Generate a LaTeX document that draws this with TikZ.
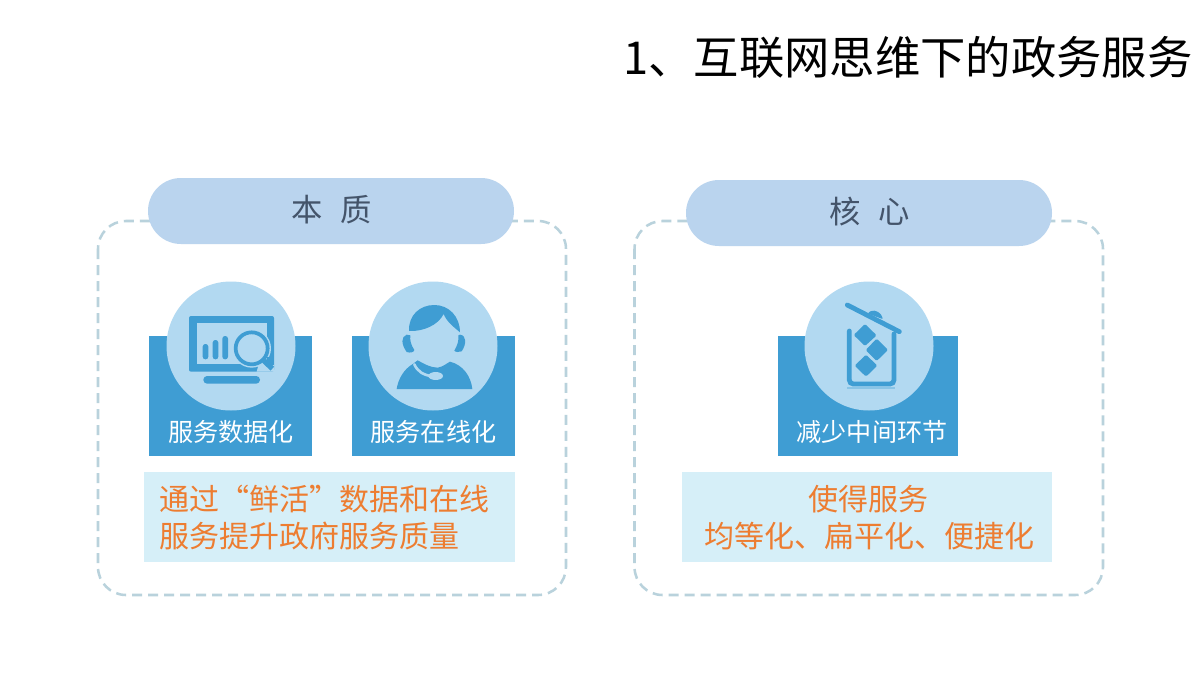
\documentclass[tikz,border=0pt]{standalone}
\usepackage{fontspec}
\setmainfont{Noto Sans CJK SC}
\definecolor{dashc}{HTML}{B9D2DC}
\definecolor{pillc}{HTML}{BAD4EE}
\definecolor{pillt}{HTML}{44546A}
\definecolor{blockc}{HTML}{3F9DD3}
\definecolor{circc}{HTML}{B2D9F1}
\definecolor{notec}{HTML}{D6EFF8}
\definecolor{orangec}{HTML}{ED7D31}
\tikzset{
  x=0.75pt,y=-0.75pt,
  framebox/.style={draw=dashc,line width=1.9pt,dash pattern=on 7.5pt off 4.5pt,rounded corners=21pt,fill=none},
  pill/.style={fill=pillc,draw=none,rounded corners=24.7pt},
  block/.style={fill=blockc,draw=none},
  disc/.style={fill=circc,draw=none},
  note/.style={fill=notec,draw=none},
  ttl/.style={inner sep=0pt,anchor=base west,text=black,font=\fontsize{34pt}{40pt}\selectfont},
  pilltext/.style={inner sep=0pt,anchor=center,text=pillt,font=\fontsize{23.5pt}{28pt}\selectfont},
  blocktext/.style={inner sep=0pt,anchor=center,text=white,font=\fontsize{18.8pt}{22pt}\selectfont},
  notetext/.style={inner sep=0pt,anchor=base west,text=orangec,font=\fontsize{22.5pt}{27pt}\selectfont},
  ink/.style={fill=blockc,draw=none},
  inkline/.style={draw=blockc,fill=none},
}
\begin{document}
\begin{tikzpicture}
\useasboundingbox (0,0) rectangle (1200,675);
\fill[white] (0,0) rectangle (1200,675);
\node[ttl] (title) at (623,74) {1、互联网思维下的政务服务};

\draw[framebox] (98,221) rectangle (566,595);
\draw[framebox] (634.5,221) rectangle (1103,595);
\path[pill] (148,178) rectangle (514,244);
\path[pill] (686,180) rectangle (1052,246);
\node[pilltext] (benzhi) at (331.5,210) {本\hspace{13pt}质};
\node[pilltext] (hexin) at (869.5,212) {核\hspace{13pt}心};

\path[block] (149,336) rectangle (312,456);
\path[block] (352,336) rectangle (515,456);
\path[block] (778,336) rectangle (958,456);
\path[disc] (231,346) circle (64.5);
\path[disc] (433,346) circle (64.5);
\path[disc] (869,346) circle (64.5);

\node[blocktext] (l1) at (231,432) {服务数据化};
\node[blocktext] (l2) at (433.5,432) {服务在线化};
\node[blocktext] (l3) at (872,432) {减少中间环节};

\path[note] (144,472) rectangle (515,562);
\path[note] (682,472) rectangle (1052,562);
\node[notetext] (n1) at (159,510) {通过“鲜活”数据和在线};
\node[notetext] (n2) at (159,547) {服务提升政府服务质量};
\node[notetext] (n3) at (808.5,510) {使得服务};
\node[notetext] (n4) at (704.5,547) {均等化、扁平化、便捷化};

% monitor icon
\begin{scope}[shift={(140,270)},scale=1/3]
  \path[ink,rounded corners=1.5pt] (147,138) rectangle (402,305);
  \path[fill=circc] (170,160) rectangle (380,283);
  \path[ink,rounded corners=2.8pt] (190,318) rectangle (360,341);
  \path[ink,rounded corners=2pt] (188,222) rectangle (205,268);
  \path[ink,rounded corners=2pt] (218,210) rectangle (235,268);
  \path[ink,rounded corners=2pt] (247,198) rectangle (264,268);
  \path[fill=circc] (335,235) circle (58);
  \path[fill=circc] (362,262) -- (402,262) -- (402,305) -- (350,305) -- cycle;
  \path[ink] (380,262) rectangle (402,285);
  \draw[inkline,line width=2.8pt] (335,235) circle (48);
  \draw[inkline,line width=4pt] (372,272) -- (397,296);
\end{scope}

% headset agent icon
\begin{scope}[shift={(345,270)},scale=1/3]
  \path[ink] (192,183) .. controls (190,135) and (225,105) .. (268,105)
     .. controls (312,105) and (345,140) .. (345,187)
     .. controls (325,170) and (305,155) .. (296,132)
     .. controls (280,165) and (235,185) .. (192,183) -- cycle;
  \path[ink] (185,194) .. controls (168,200) and (168,222) .. (185,246)
     .. controls (195,250) and (208,246) .. (208,240)
     .. controls (198,225) and (194,210) .. (196,196) -- cycle;
  \path[ink] (345,194) .. controls (365,196) and (365,222) .. (350,244)
     .. controls (342,248) and (330,246) .. (328,242)
     .. controls (338,225) and (342,210) .. (340,196) -- cycle;
\end{scope}
\begin{scope}[shift={(395,345)},scale=1/3]
  \path[ink] (5,132) .. controls (10,100) and (28,72) .. (52,58)
     -- (68,46) .. controls (85,55) and (105,68) .. (128,68)
     .. controls (145,65) and (155,55) .. (165,50)
     .. controls (205,60) and (228,95) .. (232,132) -- cycle;
  \draw[circc,line width=2pt,line cap=round] (58,58) .. controls (68,80) and (85,90) .. (112,94);
  \path[fill=circc] (122,93) ellipse (22 and 12);
\end{scope}

% bin icon
\begin{scope}[shift={(770,270)},scale=1/3]
  \draw[blockc,line width=3.6pt,line cap=round] (232,105) -- (388,185);
  \path[ink,rounded corners=1.5pt] (292,130) -- (308,120) -- (330,128) -- (340,148) -- cycle;
  \draw[blockc,line width=3.6pt,line cap=round,rounded corners=3pt] (238,183) -- (238,342) -- (372,342) -- (372,192);
  \path[fill=blockc,opacity=.35] (232,350) rectangle (375,356);
  \path[ink,rounded corners=1pt] (285,162) -- (320,196) -- (285,228) -- (251,195) -- cycle;
  \path[ink,rounded corners=1pt] (320,206) -- (354,240) -- (320,273) -- (287,240) -- cycle;
  \path[ink,rounded corners=1pt] (288,254) -- (322,287) -- (288,320) -- (254,287) -- cycle;
\end{scope}
\end{tikzpicture}
\end{document}
